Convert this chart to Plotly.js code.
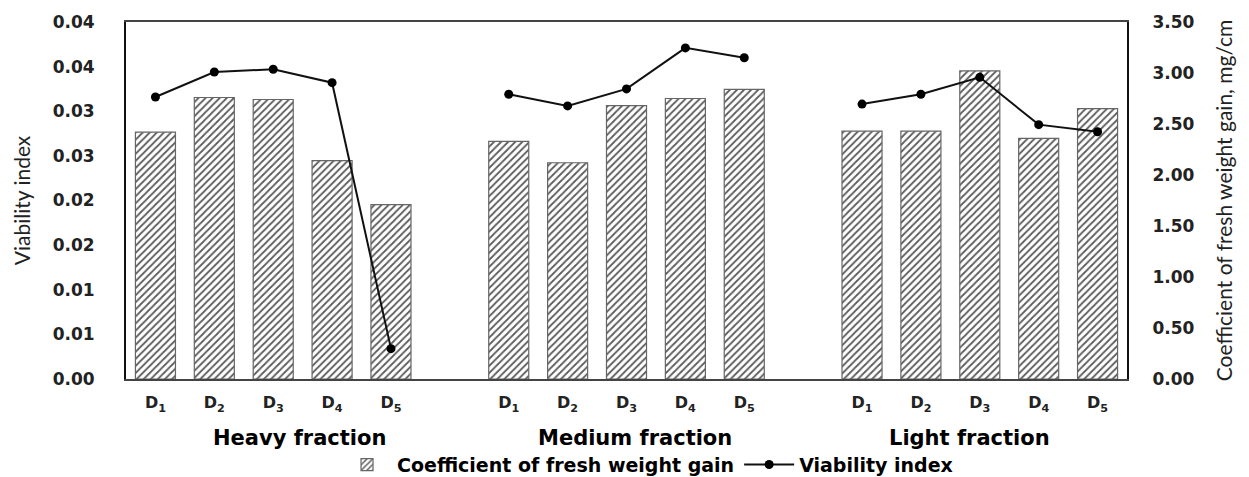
<!DOCTYPE html>
<html><head><meta charset="utf-8">
<script src="https://cdn.plot.ly/plotly-3.0.1.min.js"></script>
<style>html,body{margin:0;padding:0;background:#fff}#c{width:1249px;height:477px}</style>
</head><body><div id="c"></div>
<script>
// Categories: three fractions, five doses each, with an empty slot between fractions
const fractions = ['Heavy fraction', 'Medium fraction', 'Light fraction'];
const doses = ['D<sub>1</sub>', 'D<sub>2</sub>', 'D<sub>3</sub>', 'D<sub>4</sub>', 'D<sub>5</sub>'];
// Coefficient of fresh weight gain, mg/cm (right axis)
const coefHeavy = [2.42, 2.76, 2.74, 2.14, 1.71];
const coefMedium = [2.33, 2.12, 2.68, 2.75, 2.84];
const coefLight = [2.43, 2.43, 3.02, 2.36, 2.65];
// Viability index (left axis)
const viaHeavy = [0.0316, 0.0344, 0.0347, 0.0332, 0.0034];
const viaMedium = [0.0319, 0.0306, 0.0325, 0.0371, 0.0360];
const viaLight = [0.0308, 0.0319, 0.0338, 0.0285, 0.0277];
// Left axis tick labels as printed
const leftTickVals = [0, 0.005, 0.01, 0.015, 0.02, 0.025, 0.03, 0.035, 0.04];
const leftTickText = ['0.00', '0.01', '0.01', '0.02', '0.02', '0.03', '0.03', '0.04', '0.04'];

// build slot positions: 5 bars, one gap, 5 bars, one gap, 5 bars
const xs = [], tickText = [], coef = [], via = [];
const groupsCoef = [coefHeavy, coefMedium, coefLight];
const groupsVia = [viaHeavy, viaMedium, viaLight];
let pos = 0;
for (let g = 0; g < 3; g++) {
  for (let i = 0; i < 5; i++) {
    xs.push(pos); tickText.push(doses[i]);
    coef.push(groupsCoef[g][i]); via.push(groupsVia[g][i]);
    pos++;
  }
  if (g < 2) { xs.push(pos); tickText.push(''); coef.push(null); via.push(null); pos++; }
}

const font = 'DejaVu Sans, Verdana, sans-serif';
const titleFont = 'Lato, Open Sans, sans-serif';
const traces = [
  {
    type: 'bar', x: xs, y: coef, yaxis: 'y', name: 'Coefficient of fresh weight gain',
    marker: {
      color: '#ffffff',
      line: {color: '#666666', width: 1.2},
      pattern: {shape: '/', fgcolor: '#5a5a5a', bgcolor: '#ffffff', size: 5, solidity: 0.35}
    },
    hoverinfo: 'skip'
  },
  {
    type: 'scatter', mode: 'lines+markers', x: xs, y: via, yaxis: 'y2', name: 'Viability index',
    connectgaps: false,
    line: {color: '#111111', width: 2},
    marker: {color: '#000000', size: 9},
    hoverinfo: 'skip'
  }
];

const annotations = fractions.map((f, i) => ({
  text: '<b>' + f + '</b>', xref: 'x', yref: 'paper',
  x: [2.45, 8.15, 13.82][i], y: -0.166, yanchor: 'middle', xanchor: 'center',
  showarrow: false, font: {family: font, size: 21, color: '#000'}
}));

const layout = {
  width: 1249, height: 477,
  margin: {l: 126, r: 122, t: 22, b: 98, autoexpand: false},
  paper_bgcolor: '#fff', plot_bgcolor: '#fff',
  showlegend: true,
  bargap: 0.32,
  xaxis: {
    range: [-0.5, 16.5], tickvals: xs, ticktext: tickText,
    showline: true, mirror: true, linecolor: '#444', linewidth: 2,
    showgrid: false, zeroline: false, ticks: '', ticklabelstandoff: 8,
    tickfont: {family: font, size: 16, color: '#222', weight: 'bold'}
  },
  // bars: right axis
  yaxis: {
    range: [0, 3.5], dtick: 0.5, tickformat: '.2f', side: 'right',
    showline: true, linecolor: '#111', linewidth: 2, showgrid: false, zeroline: false, ticks: '',
    ticklabelstandoff: 20,
    tickfont: {family: font, size: 17, color: '#222', weight: 'bold'},
    title: {text: 'Coefficient of fresh weight gain, mg/cm', font: {family: titleFont, size: 21, color: '#222'}, standoff: 24}
  },
  // line: left axis
  yaxis2: {
    range: [0, 0.04], tickvals: leftTickVals, ticktext: leftTickText, overlaying: 'y', side: 'left',
    showline: true, linecolor: '#111', linewidth: 2, showgrid: false, zeroline: false, ticks: '',
    ticklabelstandoff: 26,
    tickfont: {family: font, size: 17, color: '#222', weight: 'bold'},
    title: {text: 'Viability index', font: {family: titleFont, size: 21, color: '#222'}, standoff: 16}
  },
  legend: {
    orientation: 'h', x: 0.521, xanchor: 'center', y: -0.24, yanchor: 'middle',
    font: {family: font, size: 19, color: '#000', weight: 'bold'}, itemwidth: 50
  },
  annotations: annotations
};

Plotly.newPlot('c', traces, layout, {displayModeBar: false, staticPlot: true});
</script>
</body></html>
